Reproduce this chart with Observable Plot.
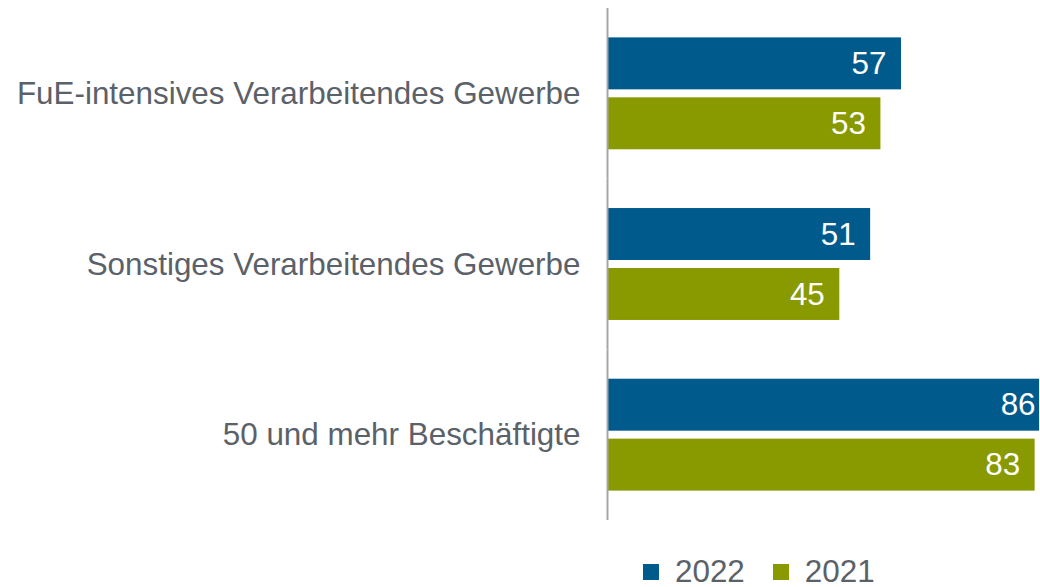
<!DOCTYPE html>
<html>
<head>
<meta charset="utf-8">
<script src="https://cdn.jsdelivr.net/npm/d3@7"></script>
<script src="https://cdn.jsdelivr.net/npm/@observablehq/plot@0.6"></script>
<style>
  html, body { margin: 0; padding: 0; background: #fff; overflow: hidden; }
  body { width: 1040px; height: 587px; position: relative; font-family: "Liberation Sans", Arial, sans-serif; }
  #legend { position: absolute; top: 556px; left: 643px; display: flex; align-items: center; font-size: 31.4px; line-height: 31px; color: #5b6168; }
  #legend .sw { width: 16px; height: 16px; display: inline-block; }
</style>
</head>
<body>
<div id="chart"></div>
<div id="legend"></div>
<script>
const categories = ["FuE-intensives Verarbeitendes Gewerbe", "Sonstiges Verarbeitendes Gewerbe", "50 und mehr Beschäftigte"];
const years = ["2022", "2021"];
const values2022 = [57, 51, 86];
const values2021 = [53, 45, 83];
const colors = ["#005b8c", "#889a00"];

const data = [];
categories.forEach((c, i) => {
  data.push({category: c, year: "2022", value: values2022[i]});
  data.push({category: c, year: "2021", value: values2021[i]});
});

const chart = Plot.plot({
  width: 1040,
  height: 540,
  marginLeft: 608,
  marginRight: 1,
  marginTop: 8,
  marginBottom: 20,
  style: {fontFamily: "'Liberation Sans', Arial, sans-serif", background: "#fff"},
  x: {domain: [0, 83.85], axis: null},
  fy: {domain: categories, padding: 0, label: null, round: false},
  y: {domain: years, paddingInner: 0.133, paddingOuter: 0.49, axis: null, round: false},
  color: {domain: years, range: colors},
  marks: [
    Plot.axisFy({anchor: "left", tickSize: 0, tickPadding: 28, label: null, fontSize: 31.4, fill: "#5b6168"}),
    Plot.barX(data, {x: "value", y: "year", fy: "category", fill: "year", clip: true}),
    Plot.ruleX([0], {stroke: "#a6a6a6", strokeWidth: 2, dx: -1}),
    Plot.text(data, {x: "value", y: "year", fy: "category", text: d => String(d.value), textAnchor: "end", dx: -15, fill: "white", fontSize: 31.4})
  ]
});
document.getElementById("chart").appendChild(chart);

const legend = document.getElementById("legend");
years.forEach((y, i) => {
  const sw = document.createElement("span");
  sw.className = "sw";
  sw.style.background = colors[i];
  sw.style.marginRight = "16px";
  legend.appendChild(sw);
  const t = document.createElement("span");
  t.textContent = y;
  t.style.marginRight = i === 0 ? "28px" : "0";
  legend.appendChild(t);
});
</script>
</body>
</html>
